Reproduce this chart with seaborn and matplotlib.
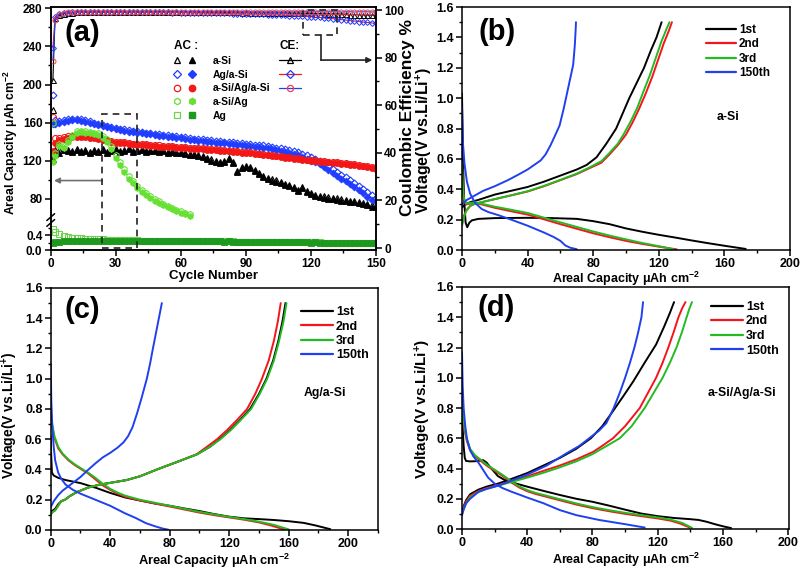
# Cycling performance (a) and voltage profiles (b)-(d) for the Si/Ag electrodes

import numpy as np
import seaborn as sns
import matplotlib.pyplot as plt
from matplotlib.lines import Line2D
from matplotlib.patches import Rectangle
from matplotlib.legend_handler import HandlerTuple
from matplotlib.ticker import FixedLocator, MultipleLocator

# ---------------- (a) areal capacity / CE vs cycle ----------------
# first value = cycle 1, then cycles 2, 4, 6, ... (every second cycle)
asi_chg = [122, 127, 128, 131, 130, 129, 131, 129, 130, 128, 130, 129, 131, 128, 130, 131, 129, 130, 132, 129,
           130, 131, 129, 130, 130, 129, 130, 128, 129, 128, 128, 127, 126, 126, 125, 123.5, 122, 120, 119, 117,
           118, 122, 117, 108, 112, 113, 112, 109, 106, 103, 101, 99, 98, 96, 94.5, 93, 91, 88, 91, 86.5,
           85, 83, 81.5, 81, 80, 79.5, 79, 78, 77.5, 76.5, 76, 75, 74, 73, 71.5, 71]
asi_ce = [70.6, 96.5, 97.8, 98.5, 98.8, 98.9, 99.0, 99.0, 99.1, 99.0, 99.1, 99.1, 99.1, 99.1, 99.1, 99.2, 99.1, 99.1,
          99.2, 99.1, 99.1, 99.2, 99.1, 99.1, 99.2, 99.1, 99.1, 99.2, 99.1, 99.1, 99.1, 99.1, 99.1, 99.1, 99.0, 99.1,
          99.0, 99.0, 99.1, 99.0, 99.0, 99.0, 99.0, 99.0, 98.9, 99.0, 98.9, 98.9, 98.9, 98.9, 98.9, 98.8, 98.8, 98.8,
          98.8, 98.7, 98.7, 98.7, 98.6, 98.6, 98.6, 98.5, 98.5, 98.4, 98.4, 98.3, 98.3, 98.2, 98.2, 98.1, 98.1, 98.0,
          98.0, 97.9, 97.9, 97.8]
agasi_chg = [158.5, 158, 159.5, 161, 162, 162.5, 162.5, 162, 161, 160, 158.5, 157, 156, 155, 154, 153, 152, 151.5,
             150.5, 150, 149.5, 149, 148, 147.5, 147, 146, 145.5, 145, 144.5, 144, 143.5, 143, 142, 141.5, 141, 140.5,
             140, 139.5, 139, 138.5, 138, 137.5, 137, 136.5, 136, 135.5, 135, 134.5, 134, 133.5, 133, 132, 131, 130,
             129, 128, 127, 125.5, 124, 122, 120, 118, 116, 113, 110, 107, 104, 101, 98.5, 95.5, 92, 89, 86, 82, 79, 76]
agasi_ce = [84.0, 97.0, 98.4, 98.8, 98.9, 99.0, 99.0, 99.1, 99.1, 99.1, 99.1, 99.1, 99.2, 99.1, 99.2, 99.1, 99.1, 99.2,
            99.1, 99.1, 99.1, 99.1, 99.0, 99.1, 99.0, 99.0, 99.0, 99.0, 98.9, 99.0, 98.9, 98.9, 98.9, 98.8, 98.8, 98.8,
            98.7, 98.7, 98.7, 98.6, 98.6, 98.6, 98.5, 98.5, 98.4, 98.4, 98.3, 98.3, 98.2, 98.2, 98.1, 98.0, 98.0, 97.9,
            97.8, 97.7, 97.6, 97.5, 97.4, 97.3, 97.2, 97.0, 96.9, 96.7, 96.5, 96.4, 96.2, 96.0, 95.8, 95.6, 95.4, 95.2,
            95.0, 94.8, 94.6, 94.4]
asiagasi_chg = [130.5, 138, 141.5, 143, 144, 144.5, 145, 144.8, 144.5, 144, 143.5, 142.5, 141.5, 140.5, 139.5, 139,
                138.5, 138, 137.5, 137, 136.7, 136.3, 136, 135.6, 135.2, 134.8, 134.5, 134.2, 133.8, 133.5, 133.2,
                132.9, 132.6, 132.3, 132, 131.7, 131.4, 131.1, 130.8, 130.4, 130, 129.6, 129.2, 128.8, 128.4, 128,
                127.5, 127, 126.5, 126, 125.5, 125, 124.4, 123.8, 123.2, 122.6, 122, 121.4, 120.8, 120.2, 119.7,
                119.3, 118.9, 118.5, 118.1, 117.7, 117.2, 116.7, 116.2, 115.7, 115.2, 114.6, 114, 113.2, 112.3, 111.5]
asiagasi_ce = [78.8, 96.0, 98.3, 98.8, 99.0, 99.1, 99.2, 99.2, 99.3, 99.2, 99.3, 99.2, 99.3, 99.3, 99.2, 99.3, 99.3,
               99.2, 99.3, 99.3, 99.3, 99.2, 99.3, 99.3, 99.3, 99.2, 99.3, 99.3, 99.2, 99.3, 99.3, 99.3, 99.2, 99.3,
               99.3, 99.2, 99.3, 99.3, 99.3, 99.2, 99.3, 99.3, 99.2, 99.3, 99.3, 99.3, 99.2, 99.3, 99.3, 99.2, 99.3,
               99.3, 99.3, 99.2, 99.3, 99.3, 99.2, 99.3, 99.3, 99.3, 99.2, 99.3, 99.3, 99.2, 99.3, 99.3, 99.3, 99.2,
               99.3, 99.3, 99.2, 99.3, 99.3, 99.3, 99.2, 99.3]
asiag_chg = [118, 125, 135, 133, 140, 145, 149, 150, 149.5, 148.5, 148, 147, 144, 140, 132, 123, 115, 108, 101, 96,
             91, 87, 84, 81, 78, 75.5, 73, 71, 69, 67, 65, 63.5, 62]
asiag_dis = [160, 128, 137, 135, 142, 147, 151, 151.5, 151, 150, 149.5, 148.5, 146, 142.5, 135, 126, 118, 111, 104,
             98.5, 93, 89, 85.5, 82.5, 79.5, 77, 74.5, 72.5, 70.5, 68.5, 66.5, 65, 63.5]
ag_chg = [0.18, 0.21, 0.23, 0.24, 0.245, 0.25, 0.25, 0.255, 0.255, 0.255, 0.255, 0.26, 0.26, 0.26, 0.255, 0.26, 0.255,
          0.255, 0.255, 0.25, 0.255, 0.25, 0.25, 0.25, 0.25, 0.25, 0.245, 0.25, 0.245, 0.245, 0.245, 0.24, 0.245, 0.24,
          0.24, 0.24, 0.235, 0.24, 0.235, 0.235, 0.23, 0.235, 0.23, 0.23, 0.225, 0.23, 0.225, 0.225, 0.22, 0.225, 0.22,
          0.22, 0.215, 0.22, 0.215, 0.215, 0.21, 0.215, 0.21, 0.21, 0.205, 0.21, 0.205, 0.205, 0.2, 0.205, 0.2, 0.2,
          0.2, 0.195, 0.2, 0.195, 0.195, 0.195, 0.19, 0.19]
ag_dis = [0.58, 0.5, 0.43, 0.39, 0.36, 0.34, 0.33, 0.32, 0.31, 0.305, 0.3, 0.295, 0.29, 0.285, 0.28, 0.28, 0.275, 0.27,
          0.27, 0.265, 0.265, 0.26, 0.26, 0.26, 0.26, 0.255, 0.255, 0.255, 0.25, 0.25, 0.25, 0.25, 0.25, 0.245, 0.245,
          0.245, 0.24, 0.24, 0.24, 0.24, 0.235, 0.235, 0.235, 0.23, 0.23, 0.23, 0.23, 0.225, 0.225, 0.225, 0.225, 0.22,
          0.22, 0.22, 0.22, 0.215, 0.215, 0.215, 0.215, 0.21, 0.21, 0.21, 0.21, 0.205, 0.205, 0.205, 0.205, 0.2, 0.2,
          0.2, 0.2, 0.2, 0.195, 0.195, 0.195, 0.195]

# ---------------- (b) a-Si voltage profiles (capacity, voltage) ----------------
b_1st_dis = [(0, 1.03), (0.5, 0.65), (1.2, 0.35), (2.2, 0.18), (3.2, 0.15), (4.5, 0.18), (6, 0.195), (10, 0.205),
             (20, 0.21), (40, 0.212), (55, 0.21), (70, 0.205), (80, 0.19), (90, 0.17), (100, 0.142), (110, 0.12),
             (120, 0.1), (130, 0.082), (140, 0.063), (150, 0.045), (160, 0.028), (168, 0.015), (173, 0.007)]
b_1st_chg = [(0, 0.28), (2, 0.3), (5, 0.315), (10, 0.33), (20, 0.365), (30, 0.39), (40, 0.415), (50, 0.45), (60, 0.49),
             (70, 0.53), (76, 0.56), (82, 0.61), (88, 0.7), (94, 0.8), (98, 0.9), (102, 1.0), (106.5, 1.1), (111, 1.2),
             (115, 1.31), (118.6, 1.4), (121.7, 1.5)]
b_2nd_dis = [(0, 0.56), (0.4, 0.42), (1, 0.34), (2.5, 0.3), (5, 0.305), (8, 0.31), (12, 0.3), (20, 0.278), (30, 0.255),
             (40, 0.233), (50, 0.202), (60, 0.17), (70, 0.14), (80, 0.11), (90, 0.084), (100, 0.06), (110, 0.04),
             (120, 0.022), (126, 0.012), (131, 0.004)]
b_2nd_chg = [(0, 0.17), (1, 0.22), (2.5, 0.26), (5, 0.29), (8, 0.305), (12, 0.315), (20, 0.335), (30, 0.36), (40, 0.385),
             (50, 0.42), (60, 0.46), (70, 0.5), (78, 0.54), (85, 0.575), (90, 0.63), (95, 0.69), (100, 0.76),
             (104, 0.84), (108, 0.93), (112, 1.03), (116, 1.14), (119.5, 1.25), (123, 1.36), (126, 1.44), (128, 1.5)]
b_3rd_dis = [(0, 0.58), (0.4, 0.44), (1, 0.35), (2.5, 0.305), (5, 0.31), (8, 0.315), (12, 0.305), (20, 0.285),
             (30, 0.265), (40, 0.244), (50, 0.213), (60, 0.182), (70, 0.152), (80, 0.122), (90, 0.095), (100, 0.07),
             (110, 0.046), (120, 0.025), (125, 0.014), (129, 0.005)]
b_3rd_chg = [(0, 0.16), (1, 0.21), (2.5, 0.255), (5, 0.29), (8, 0.305), (12, 0.315), (20, 0.335), (30, 0.36),
             (40, 0.387), (50, 0.422), (60, 0.462), (70, 0.503), (78, 0.545), (85, 0.585), (90, 0.64), (95, 0.7),
             (99, 0.77), (103, 0.85), (107, 0.94), (110.5, 1.04), (114.5, 1.15), (118, 1.26), (121.5, 1.37),
             (124.5, 1.45), (126.5, 1.5)]
b_150th_dis = [(0, 0.94), (0.6, 0.7), (1.5, 0.57), (3, 0.45), (5, 0.37), (8, 0.31), (12, 0.27), (16, 0.25), (22, 0.23),
               (30, 0.2), (40, 0.16), (50, 0.115), (56, 0.085), (60, 0.06), (63, 0.03), (66, 0.015), (70, 0.005)]
b_150th_chg = [(0, 0.3), (3, 0.33), (8, 0.36), (13, 0.39), (20, 0.42), (28, 0.46), (35, 0.5), (40, 0.53), (44, 0.56),
               (48, 0.59), (51, 0.63), (54, 0.69), (57, 0.76), (59.5, 0.82), (62, 0.93), (64, 1.03), (66, 1.13),
               (67.8, 1.22), (68.8, 1.35), (69.3, 1.45), (69.5, 1.5)]

# ---------------- (c) Ag/a-Si ----------------
c_1st_dis = [(0, 0.62), (0.3, 0.5), (0.8, 0.38), (2, 0.36), (5, 0.345), (10, 0.33), (20, 0.31), (30, 0.28), (40, 0.245),
             (50, 0.215), (60, 0.195), (70, 0.175), (80, 0.16), (90, 0.142), (100, 0.125), (110, 0.105), (120, 0.088),
             (130, 0.077), (140, 0.072), (150, 0.066), (160, 0.058), (170, 0.047), (178, 0.03), (184, 0.015),
             (188, 0.005)]
c_1st_chg = [(0, 0.12), (1.5, 0.13), (3, 0.14), (5, 0.17), (7, 0.19), (9.6, 0.2), (13, 0.225), (17.5, 0.25), (25, 0.28),
             (33, 0.3), (42, 0.315), (51, 0.33), (60, 0.355), (71.4, 0.4), (85, 0.45), (98.3, 0.5), (107, 0.55),
             (113.5, 0.6), (120.5, 0.66), (127.5, 0.73), (134, 0.8), (140, 0.9), (145, 1.0), (149.5, 1.12),
             (153, 1.25), (155.8, 1.38), (157.8, 1.5)]
c_2nd_dis = [(0, 0.75), (1, 0.68), (2.5, 0.61), (5, 0.54), (8, 0.5), (12, 0.46), (16, 0.43), (20, 0.405), (25, 0.375),
             (30, 0.335), (35, 0.295), (40, 0.265), (45, 0.24), (50, 0.22), (60, 0.195), (70, 0.175), (80, 0.155),
             (90, 0.135), (100, 0.115), (110, 0.098), (120, 0.083), (130, 0.068), (140, 0.05), (148, 0.03),
             (153, 0.015), (157, 0.003)]
c_2nd_chg = [(0, 0.11), (1.5, 0.12), (3, 0.13), (5, 0.16), (7, 0.19), (9.6, 0.2), (13, 0.225), (17.5, 0.25), (25, 0.28),
             (33, 0.3), (42, 0.315), (51, 0.33), (60, 0.355), (71.4, 0.4), (85, 0.45), (98, 0.5), (105, 0.55),
             (111.8, 0.6), (118.5, 0.66), (125.5, 0.73), (132, 0.8), (137.5, 0.9), (142, 1.0), (146.5, 1.12),
             (150, 1.25), (152.7, 1.38), (154.6, 1.5)]
c_3rd_dis = [(0, 0.78), (1, 0.7), (2.5, 0.62), (5, 0.55), (8, 0.505), (12, 0.465), (16, 0.435), (20, 0.41), (25, 0.38),
             (30, 0.345), (35, 0.305), (40, 0.272), (45, 0.247), (50, 0.227), (60, 0.2), (70, 0.18), (80, 0.16),
             (90, 0.14), (100, 0.12), (110, 0.103), (120, 0.087), (130, 0.072), (140, 0.055), (150, 0.034),
             (156, 0.016), (160, 0.004)]
c_3rd_chg = [(0, 0.1), (1.5, 0.12), (3, 0.13), (5, 0.16), (7, 0.19), (9.6, 0.2), (13, 0.225), (17.5, 0.25), (25, 0.28),
             (33, 0.3), (42, 0.315), (51, 0.33), (60, 0.355), (71.4, 0.4), (85, 0.45), (98.3, 0.5), (107, 0.55),
             (114, 0.6), (121, 0.66), (128, 0.73), (134.7, 0.8), (140.5, 0.9), (145.5, 1.0), (150, 1.12),
             (153.5, 1.25), (156.5, 1.38), (158.5, 1.5)]
c_150th_dis = [(0, 1.1), (0.4, 0.85), (1, 0.7), (2, 0.55), (3, 0.46), (5, 0.38), (7, 0.34), (10, 0.3), (15, 0.265),
               (20, 0.24), (25, 0.22), (30, 0.2), (40, 0.16), (50, 0.11), (57, 0.08), (64, 0.045), (70, 0.025),
               (75, 0.01), (79, 0.002)]
c_150th_chg = [(0, 0.15), (2, 0.19), (5, 0.23), (8, 0.26), (12, 0.29), (16, 0.32), (20, 0.35), (25.4, 0.4), (30, 0.44),
               (35, 0.48), (40, 0.51), (45, 0.545), (49, 0.58), (52, 0.62), (55, 0.68), (58, 0.77), (61, 0.87),
               (64.6, 1.0), (66.8, 1.1), (68.7, 1.2), (70.7, 1.3), (72.7, 1.4), (74.7, 1.5)]

# ---------------- (d) a-Si/Ag/a-Si ----------------
d_1st_dis = [(0, 0.78), (0.5, 0.65), (1, 0.55), (1.7, 0.47), (2.5, 0.45), (5, 0.447), (8, 0.448), (11, 0.452),
             (13, 0.455), (15, 0.44), (18, 0.4), (22, 0.35), (26, 0.325), (30, 0.31), (40, 0.28), (50, 0.252),
             (60, 0.225), (70, 0.2), (80, 0.18), (90, 0.155), (100, 0.128), (110, 0.102), (120, 0.085), (130, 0.073),
             (140, 0.065), (145, 0.06), (150, 0.048), (155, 0.032), (160, 0.018), (165, 0.006)]
d_1st_chg = [(0, 0.12), (1, 0.15), (2.5, 0.19), (5, 0.23), (10, 0.26), (15, 0.28), (22, 0.3), (30, 0.33), (40, 0.37),
             (50, 0.42), (60, 0.47), (70, 0.53), (79, 0.6), (86, 0.68), (92.6, 0.78), (99, 0.88), (105, 0.976),
             (112, 1.1), (119, 1.22), (124, 1.34), (127.5, 1.43), (130, 1.5)]
d_2nd_dis = [(0, 0.85), (0.5, 0.76), (1, 0.7), (2, 0.63), (3, 0.58), (5, 0.52), (8, 0.48), (11, 0.455), (15, 0.42),
             (20, 0.385), (25, 0.35), (30, 0.31), (35, 0.275), (40, 0.25), (45, 0.232), (50, 0.218), (60, 0.19),
             (70, 0.162), (80, 0.138), (90, 0.118), (100, 0.1), (110, 0.085), (120, 0.07), (128, 0.055),
             (134, 0.035), (140, 0.008)]
d_2nd_chg = [(0, 0.11), (1, 0.14), (2.5, 0.18), (5, 0.22), (10, 0.25), (15, 0.27), (25, 0.3), (40, 0.348), (50, 0.385),
             (60, 0.42), (70, 0.46), (80.4, 0.51), (86, 0.55), (92.6, 0.6), (100, 0.68), (109, 0.8), (114, 0.9),
             (119, 1.0), (123, 1.1), (126.5, 1.2), (129.7, 1.3), (132.7, 1.4), (135, 1.46), (137, 1.5)]
d_3rd_dis = [(0, 0.87), (0.5, 0.78), (1, 0.72), (2, 0.645), (3, 0.59), (5, 0.53), (8, 0.487), (11, 0.462), (15, 0.427),
             (20, 0.392), (25, 0.357), (30, 0.317), (35, 0.282), (40, 0.257), (45, 0.239), (50, 0.225), (60, 0.197),
             (70, 0.169), (80, 0.145), (90, 0.125), (100, 0.107), (110, 0.092), (120, 0.077), (128, 0.062),
             (135, 0.04), (141, 0.008)]
d_3rd_chg = [(0, 0.1), (1, 0.13), (2.5, 0.17), (5, 0.21), (10, 0.245), (15, 0.265), (25, 0.295), (40, 0.34),
             (50, 0.372), (60, 0.408), (70, 0.447), (80, 0.495), (88, 0.545), (96.7, 0.6), (104, 0.68), (112, 0.8),
             (117.5, 0.9), (123, 1.0), (127.5, 1.1), (131.5, 1.2), (134.8, 1.3), (137.7, 1.4), (139.5, 1.46),
             (141, 1.5)]
d_150th_dis = [(0, 1.17), (0.4, 0.95), (1, 0.8), (2, 0.68), (3, 0.6), (5, 0.52), (7, 0.48), (10, 0.44), (13, 0.39),
               (16, 0.34), (20, 0.3), (25, 0.27), (30, 0.248), (40, 0.208), (50, 0.17), (60, 0.125), (70, 0.092),
               (84, 0.06), (100, 0.032), (108, 0.017), (112, 0.01)]
d_150th_chg = [(0, 0.09), (1, 0.13), (2.5, 0.17), (5, 0.2), (10, 0.245), (15, 0.265), (20, 0.28), (28, 0.31),
               (40, 0.36), (52, 0.42), (64, 0.5), (72, 0.55), (78, 0.6), (84, 0.65), (88.5, 0.7), (93, 0.8),
               (96.7, 0.9), (100, 1.0), (103, 1.1), (105.7, 1.2), (108, 1.3), (110, 1.4), (111, 1.5)]

cycle_names = ['1st', '2nd', '3rd', '150th']

# ---------------- style ----------------
sns.set_style('ticks', {'axes.edgecolor': 'black', 'text.color': 'black', 'axes.labelcolor': 'black',
                        'xtick.color': 'black', 'ytick.color': 'black'})
plt.rcParams['font.family'] = ['Liberation Sans', 'DejaVu Sans']
plt.rcParams['font.weight'] = 'bold'
plt.rcParams['axes.labelweight'] = 'bold'
plt.rcParams['mathtext.fontset'] = 'custom'
plt.rcParams['mathtext.rm'] = 'Liberation Sans:bold'
plt.rcParams['mathtext.default'] = 'rm'
plt.rcParams['axes.linewidth'] = 1.1

BLACK, RED, GREEN, BLUE = '#000000', '#f5141c', '#22bb22', '#2040f0'
C_BLUE, C_RED, C_LIME, C_AG, C_AG_OPEN = '#1f3cff', '#f21818', '#66e033', '#1d9a1d', '#70d050'


def cycles(n):
    return np.r_[1, np.arange(2, 2 * n, 2)]


def style_ticks(ax, size):
    ax.tick_params(which='major', direction='out', length=4, width=1.1, labelsize=size, pad=2)
    ax.tick_params(which='minor', direction='out', length=2.2, width=1.0)


fig = plt.figure(figsize=(8, 5.7), dpi=100)
ax_a = fig.add_axes([0.0634, 0.5614, 0.4066, 0.4263])
ax_b = fig.add_axes([0.5775, 0.5614, 0.4100, 0.4263])
ax_c = fig.add_axes([0.0634, 0.0702, 0.4091, 0.4246])
ax_d = fig.add_axes([0.5775, 0.0719, 0.4088, 0.4246])

# ---- broken left axis for (a): 0-0.82 in the bottom strip, 57.5-281 above ----
Y1, Y2, S1, S2, GAP = 0.82, 57.5, 36.5, 0.95, 0.02
F1 = Y1 * S1
F2 = F1 + GAP


def fwd(y):
    y = np.asarray(y, float)
    return np.where(y <= Y1, y * S1, np.where(y >= Y2, F2 + (y - Y2) * S2, F1 + (y - Y1) * GAP / (Y2 - Y1)))


def inv(f):
    f = np.asarray(f, float)
    return np.where(f <= F1, f / S1, np.where(f >= F2, Y2 + (f - F2) / S2, Y1 + (f - F1) * (Y2 - Y1) / GAP))


ax_a.set_yscale('function', functions=(fwd, inv))
ax_ce = ax_a.twinx()

ms = 4.3
ac_series = [
    ('a-Si', '^', BLACK, BLACK, cycles(len(asi_chg)), np.array(asi_chg) / np.array(asi_ce) * 100, asi_chg),
    ('Ag/a-Si', 'D', C_BLUE, C_BLUE, cycles(len(agasi_chg)), np.array(agasi_chg) / np.array(agasi_ce) * 100, agasi_chg),
    ('a-Si/Ag/a-Si', 'o', C_RED, C_RED, cycles(len(asiagasi_chg)),
     np.array(asiagasi_chg) / np.array(asiagasi_ce) * 100, asiagasi_chg),
    ('a-Si/Ag', 'h', C_LIME, C_LIME, cycles(len(asiag_chg)), asiag_dis, asiag_chg),
    ('Ag', 's', C_AG_OPEN, C_AG, cycles(len(ag_chg)), ag_dis, ag_chg),
]
draw_order = [4, 0, 1, 2, 3]
for i in draw_order:
    name, mk, c_open, c_fill, x, dis, chg = ac_series[i]
    m = ms - 0.8 if mk == 'D' else ms
    sns.lineplot(x=x, y=dis, ax=ax_a, color=c_open, linestyle='', marker=mk, ms=m, mfc='none', mec=c_open,
                 mew=0.8, sort=False, estimator=None)
    sns.lineplot(x=x, y=chg, ax=ax_a, color=c_fill, linestyle='', marker=mk, ms=m, mfc=c_fill, mec=c_fill,
                 mew=0.6, sort=False, estimator=None)

ce_series = [
    (asi_ce, BLACK, '^', BLACK, 3.6),
    (agasi_ce, C_RED, 'D', C_BLUE, 3.0),
    (asiagasi_ce, C_BLUE, 'o', '#f04050', 3.6),
]
for ce, lc, mk, mc, m in ce_series:
    sns.lineplot(x=cycles(len(ce)), y=ce, ax=ax_ce, color=lc, lw=0.8, marker=mk, ms=m, mfc='none', mec=mc,
                 mew=0.7, sort=False, estimator=None)

ax_a.set_xlim(0, 150)
ax_a.set_ylim(0, 281.5)
ax_a.xaxis.set_major_locator(MultipleLocator(30))
ax_a.xaxis.set_minor_locator(MultipleLocator(15))
ymaj = [0, 0.4, 80, 120, 160, 200, 240, 280]
ax_a.yaxis.set_major_locator(FixedLocator(ymaj))
ax_a.yaxis.set_minor_locator(FixedLocator([0.2, 0.6, 100, 140, 180, 220, 260]))
ax_a.set_yticklabels(['0.0', '0.4', '80', '120', '160', '200', '240', '280'])
ax_ce.set_ylim(-0.84, 101.3)
ax_ce.yaxis.set_major_locator(MultipleLocator(20))
ax_ce.yaxis.set_minor_locator(MultipleLocator(10))
style_ticks(ax_a, 8.5)
style_ticks(ax_ce, 8.5)
ax_a.set_xlabel('Cycle Number', fontsize=9.5)
ax_a.xaxis.set_label_coords(0.5, -0.082)
ax_a.set_ylabel('Areal Capacity μAh cm$^{-2}$', fontsize=8.8)
ax_a.yaxis.set_label_coords(-0.094, 0.444)
ax_ce.set_ylabel('Coulombic Efficiency %', fontsize=12.5)
ax_ce.yaxis.set_label_coords(1.074, 0.547)

# axis break marks
fb = float(fwd(Y1) / fwd(281.5))
for dy in (-0.012, 0.012):
    ax_a.plot([-0.012, 0.012], [fb - 0.014 + dy, fb + 0.014 + dy], transform=ax_a.transAxes, color='black',
              lw=1.1, clip_on=False, zorder=5)

# dashed boxes and arrows
ax_a.add_patch(Rectangle((23.8, 0.05), 15.8, 169.4, fill=False, ls=(0, (4, 3)), lw=1.2, ec='#222222', zorder=4))
ax_a.annotate('', xy=(1.5, 99), xytext=(23.8, 99),
              arrowprops=dict(arrowstyle='-|>', color='#707070', lw=1.2, mutation_scale=8, shrinkA=0, shrinkB=0))
ax_ce.add_patch(Rectangle((116.2, 89.5), 16, 10.5, fill=False, ls=(0, (4, 3)), lw=1.2, ec='#222222', zorder=4))
ax_ce.plot([124.5, 124.5], [89.5, 79], color='#222222', lw=1.2)
ax_ce.annotate('', xy=(148.3, 79), xytext=(124.5, 79),
               arrowprops=dict(arrowstyle='-|>', color='#222222', lw=1.2, mutation_scale=8, shrinkA=0, shrinkB=0))

ax_a.text(0.098, 0.893, '(a)', transform=ax_a.transAxes, fontsize=21, ha='center', va='center')

# legends of (a)
ac_handles = []
for name, mk, c_open, c_fill, *_ in ac_series:
    m = ms - 0.6 if mk == 'D' else ms + 0.3
    ac_handles.append((Line2D([], [], ls='', marker=mk, ms=m, mfc='none', mec=c_open, mew=0.9),
                       Line2D([], [], ls='', marker=mk, ms=m, mfc=c_fill, mec=c_fill)))
leg1 = ax_ce.legend(ac_handles, [s[0] for s in ac_series], handler_map={tuple: HandlerTuple(ndivide=None, pad=0.9)},
                    loc='upper left', bbox_to_anchor=(174 / 800, 1 - 40 / 570), bbox_transform=fig.transFigure,
                    frameon=False, title='AC :', alignment='left', fontsize=7.5,
                    title_fontproperties={'weight': 'bold', 'size': 8.5}, handlelength=2.0, handletextpad=1.7,
                    labelspacing=0.36, borderpad=0, borderaxespad=0)
ax_ce.add_artist(leg1)
ce_handles = [Line2D([], [], color=lc, lw=0.9, marker=mk, ms=m + 0.8, mfc='none', mec=mc, mew=0.9)
              for _, lc, mk, mc, m in ce_series]
ax_ce.legend(ce_handles, [' '] * 3, loc='upper left', bbox_to_anchor=(279 / 800, 1 - 40 / 570),
             bbox_transform=fig.transFigure, frameon=False, title='CE:', alignment='left', fontsize=7.5,
             title_fontproperties={'weight': 'bold', 'size': 8.5}, handlelength=2.1, handletextpad=0.2,
             labelspacing=0.36, borderpad=0, borderaxespad=0)

# ---------------- (b)-(d) voltage profiles ----------------
colors = [BLACK, RED, GREEN, BLUE]
panels = [
    (ax_b, [(b_1st_dis, b_1st_chg), (b_2nd_dis, b_2nd_chg), (b_3rd_dis, b_3rd_chg), (b_150th_dis, b_150th_chg)],
     200, '(b)', 'a-Si', (0.811, 0.547), (706 / 800, 1 - 24 / 570), 8.5, 11.5, 9, 0.08, (0.106, 0.898),
     0.45, -0.085),
    (ax_c, [(c_1st_dis, c_1st_chg), (c_2nd_dis, c_2nd_chg), (c_3rd_dis, c_3rd_chg), (c_150th_dis, c_150th_chg)],
     220, '(c)', 'Ag/a-Si', (0.838, 0.566), (301 / 800, 1 - 306 / 570), 9, 10, 9.3, 0.09, (0.097, 0.909),
     0.475, -0.094),
    (ax_d, [(d_1st_dis, d_1st_chg), (d_2nd_dis, d_2nd_chg), (d_3rd_dis, d_3rd_chg), (d_150th_dis, d_150th_chg)],
     200.5, '(d)', 'a-Si/Ag/a-Si', (0.855, 0.562), (711 / 800, 1 - 301 / 570), 9, 11, 9, 0.092, (0.106, 0.913),
     0.496, -0.089),
]
for ax, curves, xmax, tag, sample, spos, lpos, lfs, ylfs, xlfs, xly, tpos, yly, ylx in panels:
    for (dis, chg), c in zip(curves, colors):
        for pts in (dis, chg):
            q, v = zip(*pts)
            sns.lineplot(x=list(q), y=list(v), ax=ax, color=c, lw=1.4, sort=False, estimator=None)
    ax.set_xlim(0, xmax)
    ax.set_ylim(0, 1.6)
    ax.xaxis.set_major_locator(MultipleLocator(40))
    ax.xaxis.set_minor_locator(MultipleLocator(20))
    ax.yaxis.set_major_locator(MultipleLocator(0.2))
    ax.yaxis.set_minor_locator(MultipleLocator(0.1))
    style_ticks(ax, 9)
    ax.set_xlabel('Areal Capacity μAh cm$^{-2}$', fontsize=xlfs)
    ax.xaxis.set_label_coords(0.5, -xly)
    ax.set_ylabel('Voltage(V vs.Li/Li$^{+}$)', fontsize=ylfs)
    ax.yaxis.set_label_coords(ylx, yly)
    ax.text(tpos[0], tpos[1], tag, transform=ax.transAxes, fontsize=21, ha='center', va='center')
    ax.text(spos[0], spos[1], sample, transform=ax.transAxes, fontsize=8.8, ha='center', va='center')
    handles = [Line2D([], [], color=c, lw=1.6) for c in colors]
    ax.legend(handles, cycle_names, loc='upper left', bbox_to_anchor=lpos, bbox_transform=fig.transFigure,
              frameon=False, fontsize=lfs, handlelength=2.55, handletextpad=0.25, labelspacing=0.2,
              borderpad=0, borderaxespad=0)

plt.savefig('out.png', dpi=100)
